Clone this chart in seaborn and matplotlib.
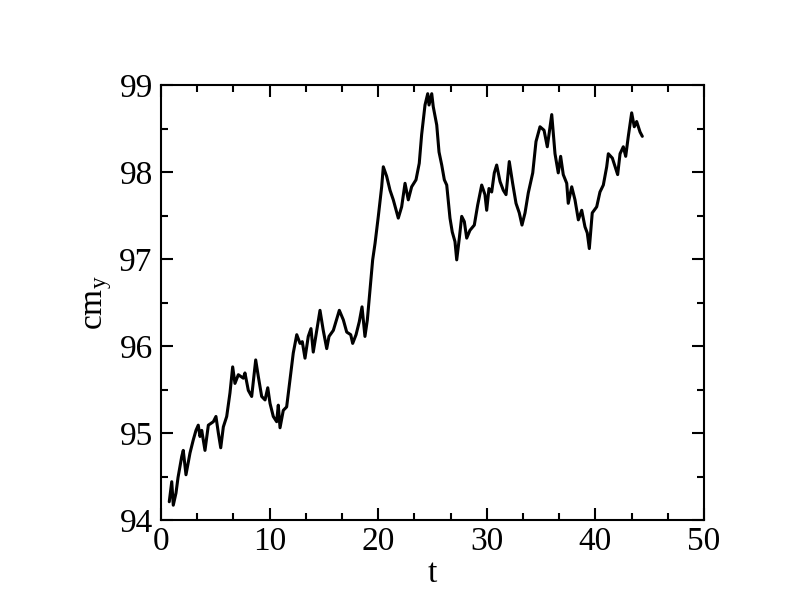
import numpy as np
import pandas as pd
import matplotlib
matplotlib.use("Agg")
import matplotlib.pyplot as plt
from matplotlib.ticker import MultipleLocator
import seaborn as sns

# values
t_vals = [0.76, 0.99, 1.13, 1.38, 1.57, 1.91, 2.05, 2.30, 2.67, 2.97, 3.22, 3.43, 3.59, 3.75,
          4.05, 4.36, 4.82, 5.06, 5.28, 5.50, 5.74, 6.05, 6.35, 6.60, 6.81, 7.12, 7.58, 7.73,
          8.04, 8.35, 8.72, 8.96, 9.27, 9.58, 9.83, 10.04, 10.34, 10.65, 10.80, 10.96, 11.26,
          11.57, 11.88, 12.18, 12.50, 12.80, 13.01, 13.26, 13.56, 13.81, 14.02, 14.34, 14.64,
          14.94, 15.26, 15.47, 15.87, 16.42, 16.79, 17.10, 17.47, 17.65, 17.96, 18.26, 18.51,
          18.78, 19.00, 19.24, 19.49, 19.71, 20.01, 20.32, 20.47, 20.78, 21.09, 21.39, 21.85,
          22.16, 22.47, 22.77, 23.08, 23.48, 23.78, 24.00, 24.31, 24.56, 24.68, 24.93, 25.07,
          25.39, 25.60, 25.85, 26.09, 26.31, 26.61, 26.82, 27.07, 27.23, 27.47, 27.69, 27.93,
          28.15, 28.45, 28.85, 29.16, 29.53, 29.83, 29.99, 30.20, 30.45, 30.69, 30.91, 31.22,
          31.52, 31.77, 32.07, 32.38, 32.69, 32.99, 33.24, 33.52, 33.82, 34.23, 34.53, 34.90,
          35.27, 35.57, 35.98, 36.28, 36.58, 36.80, 37.04, 37.36, 37.50, 37.82, 38.12, 38.43,
          38.74, 39.04, 39.25, 39.44, 39.71, 40.12, 40.42, 40.73, 41.04, 41.19, 41.56, 42.05,
          42.27, 42.57, 42.79, 43.03, 43.34, 43.58, 43.80, 44.11, 44.32]
cmy_vals = [94.21, 94.44, 94.17, 94.31, 94.49, 94.73, 94.80, 94.52, 94.77, 94.92, 95.03, 95.09,
            94.96, 95.03, 94.80, 95.09, 95.13, 95.19, 95.00, 94.83, 95.07, 95.19, 95.46, 95.76,
            95.57, 95.67, 95.63, 95.69, 95.49, 95.42, 95.84, 95.65, 95.42, 95.38, 95.52, 95.34,
            95.19, 95.13, 95.32, 95.06, 95.26, 95.30, 95.61, 95.92, 96.13, 96.03, 96.05, 95.86,
            96.11, 96.20, 95.93, 96.18, 96.41, 96.18, 95.97, 96.11, 96.18, 96.41, 96.30, 96.16,
            96.13, 96.03, 96.13, 96.28, 96.45, 96.11, 96.30, 96.64, 96.99, 97.18, 97.49, 97.83,
            98.06, 97.95, 97.79, 97.68, 97.47, 97.60, 97.87, 97.68, 97.83, 97.91, 98.10, 98.43,
            98.77, 98.90, 98.77, 98.90, 98.75, 98.54, 98.23, 98.08, 97.91, 97.85, 97.47, 97.31,
            97.20, 96.99, 97.24, 97.49, 97.43, 97.24, 97.33, 97.39, 97.62, 97.85, 97.74, 97.56,
            97.81, 97.77, 97.99, 98.08, 97.89, 97.79, 97.74, 98.12, 97.87, 97.64, 97.53, 97.39,
            97.53, 97.76, 97.99, 98.35, 98.52, 98.48, 98.29, 98.66, 98.21, 97.99, 98.18, 97.97,
            97.87, 97.64, 97.83, 97.68, 97.45, 97.56, 97.37, 97.30, 97.12, 97.53, 97.60, 97.77,
            97.85, 98.06, 98.21, 98.16, 97.97, 98.21, 98.29, 98.18, 98.41, 98.68, 98.52, 98.58,
            98.46, 98.41]

x_ticks = [0, 10, 20, 30, 40, 50]
y_ticks = [94, 95, 96, 97, 98, 99]
x_label = "t"
y_label = r"cm$_\mathrm{y}$"

df = pd.DataFrame({"t": t_vals, "cmy": cmy_vals})

sns.set_theme(style="ticks")
plt.rcParams["font.family"] = ["Liberation Serif", "DejaVu Serif"]
plt.rcParams["mathtext.fontset"] = "custom"
plt.rcParams["mathtext.rm"] = "Liberation Serif"
plt.rcParams["mathtext.it"] = "Liberation Serif:italic"
for key in ["text.color", "axes.labelcolor", "xtick.color", "ytick.color", "axes.edgecolor"]:
    plt.rcParams[key] = "black"

fig = plt.figure(figsize=(7.92, 6.12), dpi=100)
ax = fig.add_axes([161 / 792, 1 - 520 / 612, (704 - 161) / 792, (520 - 85) / 612])

sns.lineplot(data=df, x="t", y="cmy", color="black", linewidth=2.2,
             estimator=None, sort=False, ax=ax)

ax.set_xlim(0, 50)
ax.set_ylim(94, 99)
ax.set_xticks(x_ticks)
ax.set_yticks(y_ticks)
ax.xaxis.set_minor_locator(MultipleLocator(10 / 3))
ax.yaxis.set_minor_locator(MultipleLocator(0.5))
ax.tick_params(which="both", direction="in", top=True, right=True, width=1.5,
               color="black", labelcolor="black")
ax.tick_params(which="major", length=8.5)
ax.tick_params(which="minor", length=4.7)
ax.tick_params(axis="x", which="major", labelsize=24, pad=5)
ax.tick_params(axis="y", which="major", labelsize=24, pad=6)
for s in ax.spines.values():
    s.set_visible(True)
    s.set_linewidth(1.5)
    s.set_color("black")

ax.set_xlabel(x_label, fontsize=24, labelpad=1, color="black")
ax.set_ylabel(y_label, fontsize=24, labelpad=4, color="black")
ax.grid(False)

fig.savefig("out.png", dpi=100)
